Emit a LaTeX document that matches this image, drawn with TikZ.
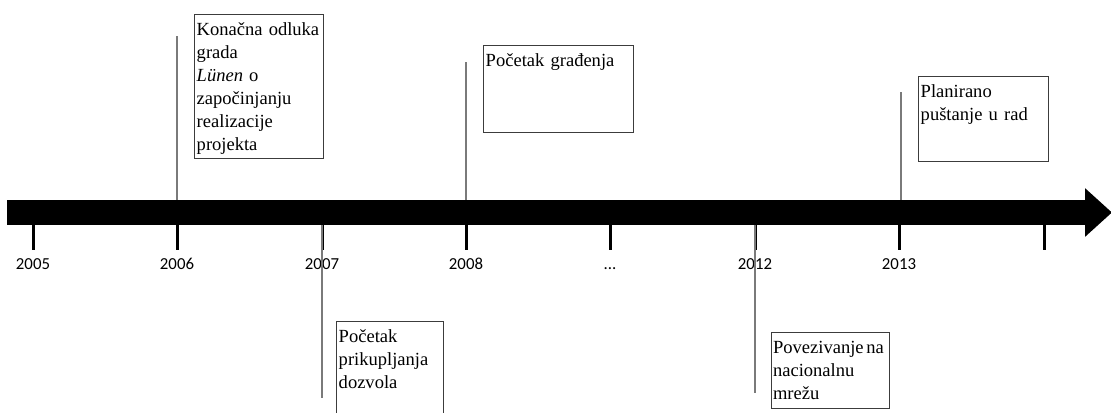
\documentclass[tikz,border=0pt]{standalone}
\usepackage{fontspec}
\usepackage{tikz}
\usetikzlibrary{arrows.meta}
\newfontfamily\notefamily{Liberation Serif}
\newfontfamily\yearfamily{Carlito}
\definecolor{lead}{HTML}{7A7A7A}
\definecolor{frame}{HTML}{3C3C3C}

\begin{document}
\begin{tikzpicture}[x=0.75pt,y=-0.75pt,note/.style={draw=frame,line width=1.1pt,anchor=north west,align=left,inner xsep=1.5pt,inner ysep=2.25pt,text height=13.5pt,font=\notefamily\fontsize{13.9pt}{17.25pt}\selectfont},year/.style={anchor=base,font=\yearfamily\fontsize{12.6pt}{15pt}\selectfont},leadline/.style={draw=lead,line width=1.1pt},tickmark/.style={line width=2.25pt}]
\useasboundingbox (0,0) rectangle (1111,412);
% time axis
\coordinate (axisstart) at (7,212.5);
\coordinate (axisend) at (1112,212.5);
\draw[line width=18.75pt,-{Triangle[length=20.25pt,width=35.25pt]}] (axisstart)--(axisend);
\foreach \x in {33,177,322,466,610,755,899,1044} \draw[tickmark] (\x,225)--(\x,250);
\foreach \x/\yr in {33/2005,177/2006,322/2007,466/2008,755/2012,899/2013} \node[year] (yr\yr) at (\x,269) {\yr};
\node[year] (yrdots) at (610,269) {...};
% notes above and below
\node[note,text width=93.75pt,text depth=90pt] (lunen) at (194,14) {Konačna odluka\\grada\\\textit{Lünen} o\\započinjanju\\realizacije\\projekta};
\node[note,text width=109.5pt,text depth=47.25pt] (gradnja) at (483,45) {Početak građenja};
\node[note,text width=94.5pt,text depth=45.75pt] (rad) at (918,76) {Planirano\\puštanje u rad};
\node[note,text width=77.25pt,text depth=63.75pt] (dozvole) at (336,321) {Početak\\prikupljanja\\dozvola};
\node[note,inner xsep=1pt,text width=86.5pt,text depth=39pt] (mreza) at (771,332) {\mbox{Povezivanje\kern2pt na}\\nacionalnu\\mrežu};
% leads
\coordinate (lunentop) at (177,36);
\coordinate (lunenbar) at (177,200);
\coordinate (dozvolebar) at (322,225);
\coordinate (dozvolebot) at (322,398);
\coordinate (gradnjatop) at (466,62);
\coordinate (gradnjabar) at (466,200);
\coordinate (mrezabar) at (755,225);
\coordinate (mrezabot) at (755,393);
\coordinate (radtop) at (901,92);
\coordinate (radbar) at (901,200);
\draw[leadline] (lunentop)--(lunenbar);
\draw[leadline] (dozvolebar)--(dozvolebot);
\draw[leadline] (gradnjatop)--(gradnjabar);
\draw[leadline] (mrezabar)--(mrezabot);
\draw[leadline] (radtop)--(radbar);
\end{tikzpicture}
\end{document}
